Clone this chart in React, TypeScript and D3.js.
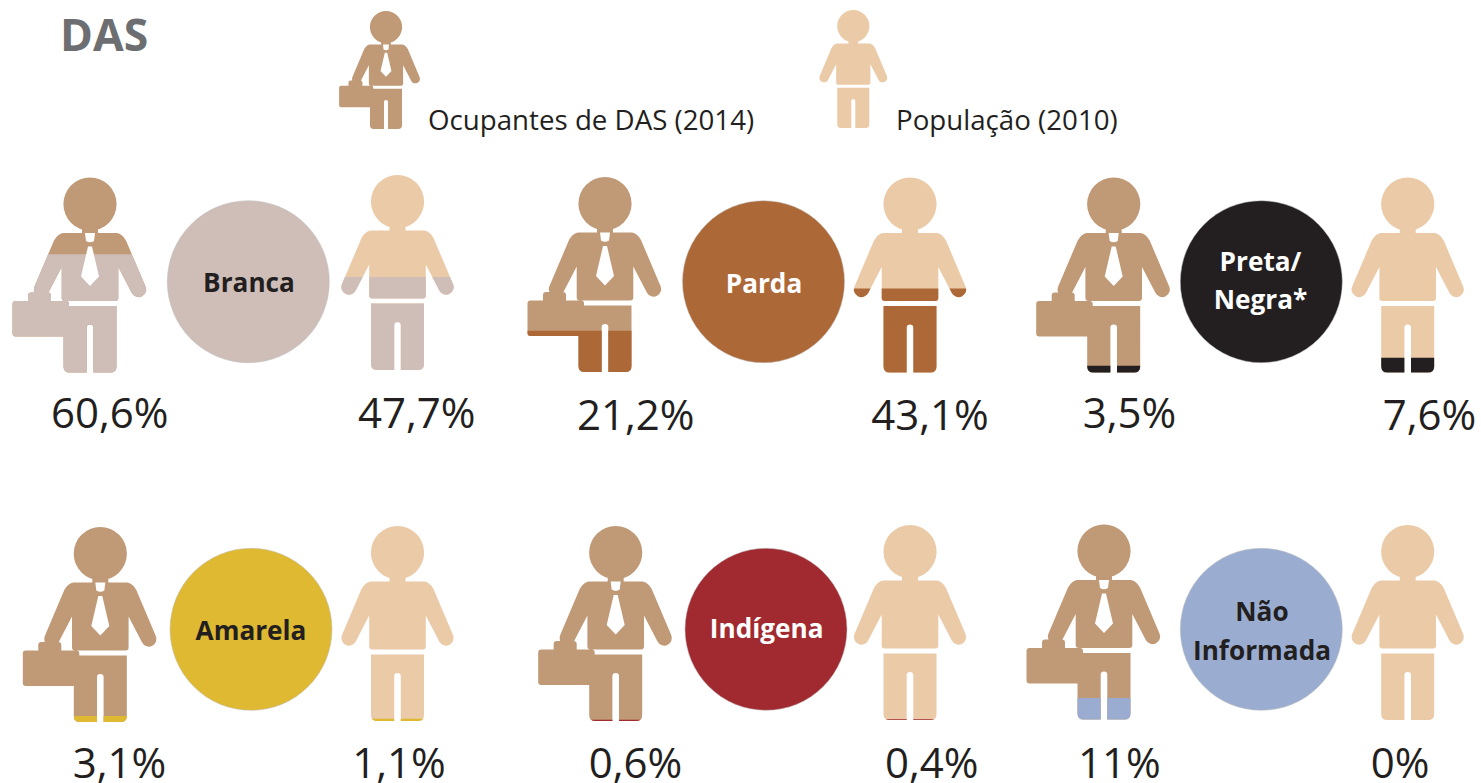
import React from "react";
import * as d3 from "d3";

const categories = ["Branca", "Parda", "Preta/Negra*", "Amarela", "Indígena", "Não Informada"];
const ocupantes = [60.6, 21.2, 3.5, 3.1, 0.6, 11];
const populacao = [47.7, 43.1, 7.6, 1.1, 0.4, 0];
const ocupantesLabels = ["60,6%", "21,2%", "3,5%", "3,1%", "0,6%", "11%"];
const populacaoLabels = ["47,7%", "43,1%", "7,6%", "1,1%", "0,4%", "0%"];
const circleLines = [["Branca"], ["Parda"], ["Preta/", "Negra*"], ["Amarela"], ["Indígena"], ["Não", "Informada"]];
const legendLabels = ["Ocupantes de DAS (2014)", "População (2010)"];

const colors = ["#CFBEB8", "#AD6837", "#231F20", "#DFB932", "#A02A30", "#9AADD0"];
const circleTextColors = ["#231F20", "#FFFFFF", "#FFFFFF", "#231F20", "#FFFFFF", "#231F20"];
const MAN = "#C09976";
const POP = "#EBCAA7";
const INK = "#231F20";

// layout: one slot per category
const manPos = [[90, 177.5], [605, 177], [1113.7, 177.5], [100.3, 527], [615.7, 526], [1104, 524.5]];
const popPos = [[397.5, 175], [910, 177.5], [1407.7, 177.5], [397.5, 526], [910, 525], [1407.7, 525]];
const circlePos = [[248.3, 281.7], [763.5, 281.7], [1261.3, 281.7], [251, 629.3], [766, 629.3], [1261.3, 629.3]];
const circleBase = [[291.5], [292.5], [270.5, 309], [639.5], [637.5], [621, 660]];
const circleTx = [249, 764, 1260.5, 251, 766.7, 1262];
const manLabelPos = [[109.7, 428], [635.7, 430], [1129.5, 428], [119.5, 778], [635.5, 778], [1119.3, 778]];
const popLabelPos = [[416.7, 428], [930, 430], [1429.5, 430], [399, 778], [931.7, 778], [1400, 778]];

const FIG_H = 195;
const fillY = d3.scaleLinear().domain([0, 100]).range([FIG_H, 0]);

const BODY =
  "M0 0A26.6 26.6 0 1 1 0 53.2A26.6 26.6 0 1 1 0 0Z" +
  "M-8 45H8V57H-8Z" +
  "M-27 55.5H27Q32 56 36 63L55.3 108.5A7.5 7.5 0 0 1 41.8 115.5L28.3 89.5V120.5Q28.3 123.5 25.3 123.5H-25.3Q-28.3 123.5 -28.3 120.5V89.5L-41.8 115.5A7.5 7.5 0 0 1 -55.3 108.5L-36 63Q-32 56 -27 55.5Z" +
  "M-26.5 128.5H26.5V189Q26.5 195 20.5 195H3.3V150Q3.3 147 0 147Q-3.3 147 -3.3 150V195H-20.5Q-26.5 195 -26.5 189Z";
const CASE =
  "M-74.5 123.5H-62V118Q-62 115 -59 115H-42Q-39 115 -39 118V123.5H-24Q-21 123.5 -21 126.5V156Q-21 159 -24 159H-74.5Q-77.5 159 -77.5 156V126.5Q-77.5 123.5 -74.5 123.5Z";
const COLLAR = "M-5 55.5H5L4 63.5Q0 66 -4 63.5Z";
const TIE = "M-2 69H2L9 99L0 108.5L-9 99Z";

function Figure({ id, kind, x, y, s = 1, value, color }: any) {
  const isMan = kind === "man";
  const d = isMan ? BODY + CASE : BODY;
  const base = isMan ? MAN : POP;
  const cut = value === undefined ? FIG_H : fillY(value);
  return (
    <g transform={`translate(${x},${y}) scale(${s})`}>
      <clipPath id={id}>
        <rect x={-90} y={cut} width={180} height={FIG_H - cut + 1} />
      </clipPath>
      <path d={d} fill={base} />
      {value !== undefined && value > 0 && <path d={d} fill={color} clipPath={`url(#${id})`} />}
      {isMan && <path d={COLLAR} fill="#fff" />}
      {isMan && <path d={TIE} fill="#fff" />}
    </g>
  );
}

export default function App() {
  const font = "'Open Sans'";
  const pct = { fontFamily: font, fontSize: 42, fill: INK, textAnchor: "middle" as const };
  return (
    <svg
      width={1481}
      height={783}
      viewBox="0 0 1481 783"
      style={{ position: "absolute", left: 0, top: 0, display: "block", background: "#fff" }}
    >
      <text x={60} y={51} fontFamily={font} fontWeight={700} fontSize={44.5} fill="#6D6E71">DAS</text>

      <Figure id="lg-man" kind="man" x={386} y={11} s={0.605} />
      <Figure id="lg-pop" kind="pop" x={853.3} y={10} s={0.605} />
      <text x={428} y={129.5} fontFamily={font} fontSize={27.7} fill={INK}>{legendLabels[0]}</text>
      <text x={896} y={129.5} fontFamily={font} fontSize={27.7} fill={INK}>{legendLabels[1]}</text>

      {categories.map((c, i) => (
        <g key={c}>
          <Figure id={`m${i}`} kind="man" x={manPos[i][0]} y={manPos[i][1]} value={ocupantes[i]} color={colors[i]} />
          <Figure id={`p${i}`} kind="pop" x={popPos[i][0]} y={popPos[i][1]} value={populacao[i]} color={colors[i]} />
          <circle cx={circlePos[i][0]} cy={circlePos[i][1]} r={81} fill={colors[i]} stroke="#BDBDBD" strokeOpacity={0.5} strokeWidth={1} />
          {circleLines[i].map((t, j) => (
            <text
              key={t}
              x={circleTx[i]}
              y={circleBase[i][j]}
              textAnchor="middle"
              fontFamily={font}
              fontWeight={700}
              fontSize={26.2}
              fill={circleTextColors[i]}
            >
              {t}
            </text>
          ))}
          <text x={manLabelPos[i][0]} y={manLabelPos[i][1]} {...pct}>{ocupantesLabels[i]}</text>
          <text x={popLabelPos[i][0]} y={popLabelPos[i][1]} {...pct}>{populacaoLabels[i]}</text>
        </g>
      ))}
    </svg>
  );
}
